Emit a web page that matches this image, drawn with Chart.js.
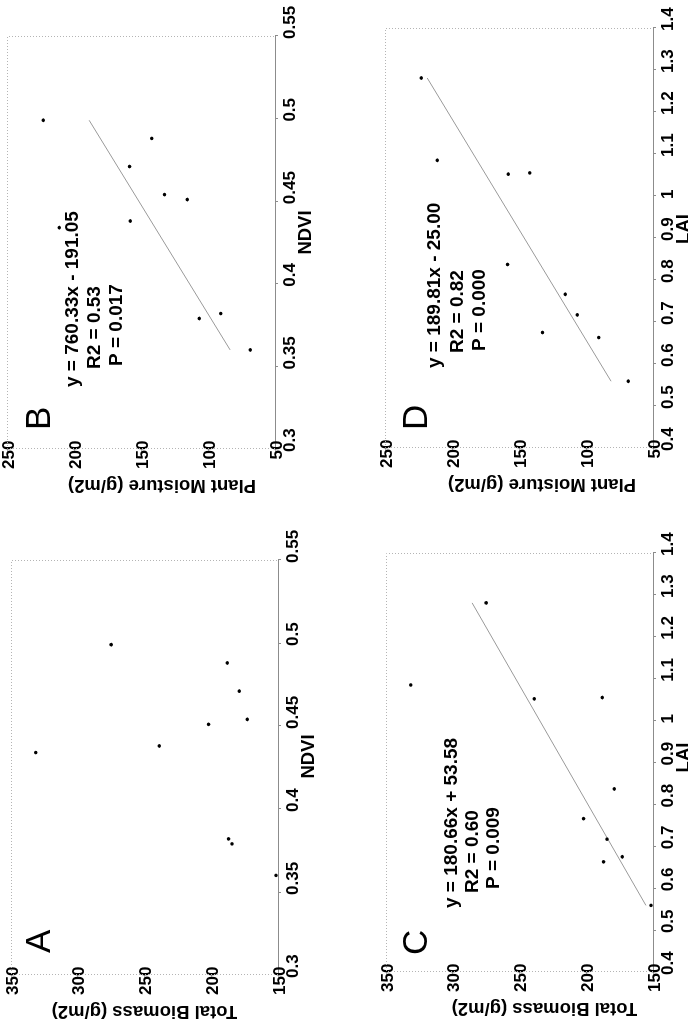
<!DOCTYPE html>
<html>
<head>
<meta charset="utf-8">
<script src="https://cdn.jsdelivr.net/npm/chart.js@4.4.1/dist/chart.umd.min.js"></script>
<style>
  html, body { margin: 0; padding: 0; background: #fff; width: 688px; height: 1025px; overflow: hidden; }
  /* the whole figure is laid out landscape, then turned a quarter turn to the left */
  #fig { position: absolute; left: 0; top: 0; width: 1025px; height: 688px;
         transform-origin: 0 0; transform: translate(0, 1025px) rotate(-90deg); }
  #fig canvas { position: absolute; }
</style>
</head>
<body>
<div id="fig">
  <canvas id="chartA"></canvas>
  <canvas id="chartB"></canvas>
  <canvas id="chartC"></canvas>
  <canvas id="chartD"></canvas>
</div>
<script>
// ten field samples, same order in every array
const ndvi     = [0.499, 0.488, 0.471, 0.454, 0.451, 0.438, 0.434, 0.382, 0.379, 0.360];
const lai      = [1.281, 1.055, 0.837, 0.675, 0.766, 1.052, 1.085, 0.663, 0.717, 0.559];
const biomass  = [275, 188, 179, 173, 202, 239, 331.5, 187, 184.5, 151.5];
const moisture = [223, 142, 158.5, 132.5, 115.5, 158, 211, 90.5, 106.5, 68.5];

// fitted lines, ends
const trendBx = [0.360, 0.499];
const trendBy = [83.5, 188.7];
const trendCx = [0.559, 1.281];
const trendCy = [155.3, 285.5];
const trendDx = [0.559, 1.281];
const trendDy = [81.3, 218.5];

// tick labels
const ndviTicks     = [0.3, 0.35, 0.4, 0.45, 0.5, 0.55];
const laiTicks      = [0.4, 0.5, 0.6, 0.7, 0.8, 0.9, 1, 1.1, 1.2, 1.3, 1.4];
const biomassTicks  = [150, 200, 250, 300, 350];
const moistureTicks = [50, 100, 150, 200, 250];

// equation boxes
const eqB = ["y = 760.33x - 191.05", "R2 = 0.53", "P = 0.017"];
const eqC = ["y = 180.66x + 53.58", "R2 = 0.60", "P = 0.009"];
const eqD = ["y = 189.81x - 25.00", "R2 = 0.82", "P = 0.000"];

const FONT = '"Liberation Sans", Arial, sans-serif';
const PAD_L = 60, PAD_T = 10, PAD_R = 45, PAD_B = 50, YW = 40, XH = 26;

const decor = {
  id: "decor",
  beforeDatasetsDraw(chart) {
    const { ctx, chartArea: a } = chart;
    ctx.save();
    ctx.strokeStyle = "#b4b4b4";
    ctx.lineWidth = 1;
    ctx.setLineDash([1, 2]);
    ctx.beginPath();
    ctx.moveTo(a.left + 0.5, a.bottom);
    ctx.lineTo(a.left + 0.5, a.top + 0.5);
    ctx.lineTo(a.right - 0.5, a.top + 0.5);
    ctx.lineTo(a.right - 0.5, a.bottom);
    ctx.stroke();
    ctx.restore();
  },
  afterDraw(chart, args, o) {
    const { ctx, chartArea: a } = chart;
    ctx.save();
    ctx.fillStyle = "#000";
    ctx.textAlign = "left";
    ctx.textBaseline = "alphabetic";
    ctx.font = "35px " + FONT;
    ctx.fillText(o.letter, a.left + o.letterAt[0], a.top + o.letterAt[1]);
    ctx.font = "bold 19px " + FONT;
    (o.eq || []).forEach((line, i) => {
      ctx.fillText(line, a.left + o.eqAt[i][0], a.top + o.eqAt[i][1]);
    });
    ctx.font = "bold 18.5px " + FONT;
    ctx.textAlign = "center";
    ctx.textBaseline = "middle";
    ctx.fillText(o.xTitle, (a.left + a.right) / 2 + o.xShift, a.bottom + 31);
    ctx.translate(a.left - 36, (a.top + a.bottom) / 2 + o.yShift);
    ctx.rotate(-Math.PI / 2);
    ctx.fillText(o.yTitle, 0, 0);
    ctx.restore();
  }
};

function makePanel(id, box, p) {
  const canvas = document.getElementById(id);
  const w = box.right - box.left + PAD_L + PAD_R;
  const h = box.bottom - box.top + PAD_T + PAD_B;
  canvas.width = w;
  canvas.height = h;
  canvas.style.left = (box.left - PAD_L) + "px";
  canvas.style.top = (box.top - PAD_T) + "px";
  canvas.style.width = w + "px";
  canvas.style.height = h + "px";

  const datasets = [{
    data: p.xs.map((x, i) => ({ x: x, y: p.ys[i] })),
    pointRadius: 1.8,
    pointBackgroundColor: "#000",
    pointBorderWidth: 0,
    showLine: false
  }];
  if (p.tx) {
    datasets.push({
      data: p.tx.map((x, i) => ({ x: x, y: p.ty[i] })),
      showLine: true,
      borderColor: "#9a9a9a",
      borderWidth: 1,
      pointRadius: 0
    });
  }

  new Chart(canvas, {
    type: "scatter",
    data: { datasets: datasets },
    plugins: [decor],
    options: {
      responsive: false,
      animation: false,
      devicePixelRatio: 1,
      layout: { padding: { left: PAD_L - YW, top: PAD_T, right: PAD_R, bottom: PAD_B - XH } },
      plugins: {
        legend: { display: false },
        tooltip: { enabled: false },
        decor: p.decor
      },
      scales: {
        x: {
          type: "linear",
          min: p.xTicks[0],
          max: p.xTicks[p.xTicks.length - 1],
          afterBuildTicks: s => { s.ticks = p.xTicks.map(v => ({ value: v })); },
          afterFit: s => { s.height = XH; },
          border: { display: true, color: "#8c8c8c", width: 1 },
          grid: { drawOnChartArea: false, drawTicks: true, tickLength: 3, color: "#8c8c8c" },
          ticks: {
            autoSkip: false, maxRotation: 0, align: "start", labelOffset: -3, padding: 2,
            color: "#000", font: { family: FONT, size: 17, weight: "bold" },
            callback: v => String(v)
          }
        },
        y: {
          type: "linear",
          min: p.yTicks[0],
          max: p.yTicks[p.yTicks.length - 1],
          afterBuildTicks: s => { s.ticks = p.yTicks.map(v => ({ value: v })); },
          afterFit: s => { s.width = YW; },
          border: { display: false },
          grid: { drawOnChartArea: false, drawTicks: true, tickLength: 3, color: "#b4b4b4" },
          ticks: {
            // mirrored so the labels may run a little past the axis, as in the source
            mirror: true, crossAlign: "far", padding: -20, labelOffset: 2,
            color: "#000", font: { family: FONT, size: 17, weight: "bold" },
            callback: v => String(v)
          }
        }
      }
    }
  });
}

makePanel("chartA", { left: 50, top: 11, right: 465, bottom: 278 }, {
  xs: ndvi, ys: biomass, xTicks: ndviTicks, yTicks: biomassTicks,
  decor: { letter: "A", letterAt: [22, 39], xTitle: "NDVI", xShift: 11, yTitle: "Total Biomass (g/m2)", yShift: 0 }
});
makePanel("chartB", { left: 576, top: 7, right: 989, bottom: 275 }, {
  xs: ndvi, ys: moisture, tx: trendBx, ty: trendBy, xTicks: ndviTicks, yTicks: moistureTicks,
  decor: { letter: "B", letterAt: [19, 43], eq: eqB, eqAt: [[62, 71], [80, 93], [83, 115]],
           xTitle: "NDVI", xShift: 10, yTitle: "Plant Moisture (g/m2)", yShift: 21 }
});
makePanel("chartC", { left: 53, top: 386, right: 472, bottom: 653 }, {
  xs: lai, ys: biomass, tx: trendCx, ty: trendCy, xTicks: laiTicks, yTicks: biomassTicks,
  decor: { letter: "C", letterAt: [17, 41], eq: eqC, eqAt: [[64, 71], [79, 92], [83, 113]],
           xTitle: "LAI", xShift: 5, yTitle: "Total Biomass (g/m2)", yShift: 25 }
});
makePanel("chartD", { left: 577, top: 385, right: 997, bottom: 653 }, {
  xs: lai, ys: moisture, tx: trendDx, ty: trendDy, xTicks: laiTicks, yTicks: moistureTicks,
  decor: { letter: "D", letterAt: [18, 42], eq: eqD, eqAt: [[80, 55], [95, 78], [97, 100]],
           xTitle: "LAI", xShift: 9, yTitle: "Plant Moisture (g/m2)", yShift: 23 }
});
</script>
</body>
</html>
